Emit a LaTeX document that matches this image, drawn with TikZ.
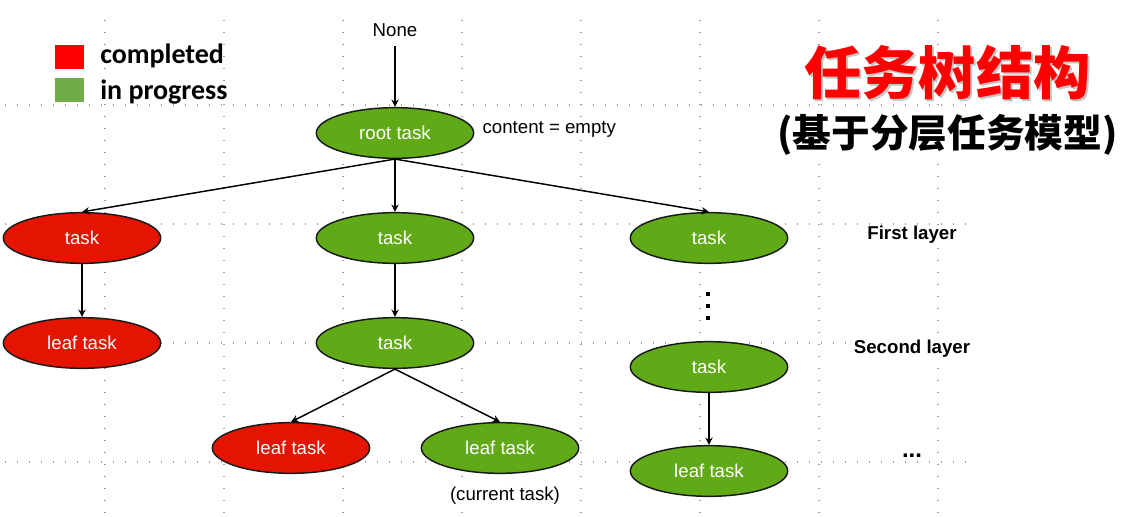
\documentclass[tikz,border=0pt]{standalone}
\usepackage{fontspec}
\setmainfont{Liberation Sans}
\newfontfamily\cjk{Noto Sans CJK SC}
\newfontfamily\legendfont{Carlito}
\usetikzlibrary{shapes.geometric,arrows.meta}
\definecolor{donered}{HTML}{E51400}
\definecolor{busygreen}{HTML}{60A917}
\definecolor{keyred}{HTML}{FF0000}
\definecolor{keygreen}{HTML}{70AD47}
\begin{document}
\begin{tikzpicture}[x=0.75pt, y=-0.75pt,
  every node/.style={font=\fontsize{14}{16}\selectfont},
  dotline/.style={gray!75, line width=0.9pt, dash pattern=on 0.8pt off 8.2pt},
  done/.style={ellipse, draw=black!90, line width=1.1pt, fill=donered,
    text=white, minimum width=118pt, minimum height=38pt, inner sep=0pt},
  busy/.style={done, fill=busygreen},
  tag/.style={fill=white, inner sep=1pt},
  >={Stealth[length=5.5pt, width=5.5pt]}]
  \useasboundingbox (0,0) rectangle (1128,517);
  % background grid
  \foreach \gx in {105,224,343,462,581,700,819,938}
    \draw [dotline] (\gx,20) -- (\gx,517);
  \foreach \gy in {105,224,343,462}
    \draw [dotline] (5,\gy) -- (975,\gy);
  % legend
  \node (keydone) [fill=keyred, minimum width=21.5pt, minimum height=18pt, inner sep=0pt] at (69.5,57) {};
  \node (keybusy) [fill=keygreen, minimum width=21.5pt, minimum height=18pt, inner sep=0pt] at (69.5,90) {};
  \node (keydonetxt) [anchor=base west, inner sep=0pt, font=\legendfont\bfseries\fontsize{21}{24}\selectfont] at (100,64) {completed};
  \node (keybusytxt) [anchor=base west, inner sep=0pt, font=\legendfont\bfseries\fontsize{21}{24}\selectfont] at (100,99) {in progress};
  % title
  \node (titleshadow) [fill=white, inner sep=1pt, text=gray!45, font=\cjk\bfseries\fontsize{43}{46}\selectfont] at (949.5,75) {任务树结构};
  \node (title) [inner sep=1pt, text=red, font=\cjk\bfseries\fontsize{43}{46}\selectfont] at (947.5,73) {任务树结构};
  \node (subtitle) [fill=white, inner sep=1pt, font=\cjk\bfseries\fontsize{29}{32}\selectfont] at (947.5,135) {(基于分层任务模型)};
  % tree
  \node (none) [tag] at (395,30) {None};
  \node (root) [busy] at (395,133) {root task};
  \node (empty) [tag, anchor=west] at (481,129) {content = empty};
  \node (t1) [done] at (82,238) {task};
  \node (t2) [busy] at (395,238) {task};
  \node (t3) [busy] at (709,238) {task};
  \node (l1) [done] at (82,343) {leaf task};
  \node (t22) [busy] at (395,343) {task};
  \node (t32) [busy] at (709,367) {task};
  \node (l2a) [done] at (291,448) {leaf task};
  \node (l2b) [busy] at (500,448) {leaf task};
  \node (l3) [busy] at (709,471) {leaf task};
  \node (current) [tag] at (505,496) {(current task)};
  \node (first) [tag, font=\bfseries\fontsize{14}{16}\selectfont] at (912,235) {First layer};
  \node (second) [tag, font=\bfseries\fontsize{14}{16}\selectfont] at (912,349) {Second layer};
  \node (more) [tag, anchor=base, font=\bfseries\fontsize{18}{20}\selectfont] at (912,457) {...};
  \foreach \dy in {294,306,318}
    \fill (706,\dy-2) rectangle +(4,4);
  \draw [->, line width=1.1pt, shorten <=6pt] (none) -- (root);
  \draw [->, line width=1.1pt] (root.south) -- (t1.north);
  \draw [->, line width=1.1pt] (root.south) -- (t2.north);
  \draw [->, line width=1.1pt] (root.south) -- (t3.north);
  \draw [->, line width=1.1pt] (t1) -- (l1);
  \draw [->, line width=1.1pt] (t2) -- (t22);
  \draw [->, line width=1.1pt] (t22.south) -- (l2a.north);
  \draw [->, line width=1.1pt] (t22.south) -- (l2b.north);
  \draw [->, line width=1.1pt] (t32) -- (l3);
\end{tikzpicture}
\end{document}
